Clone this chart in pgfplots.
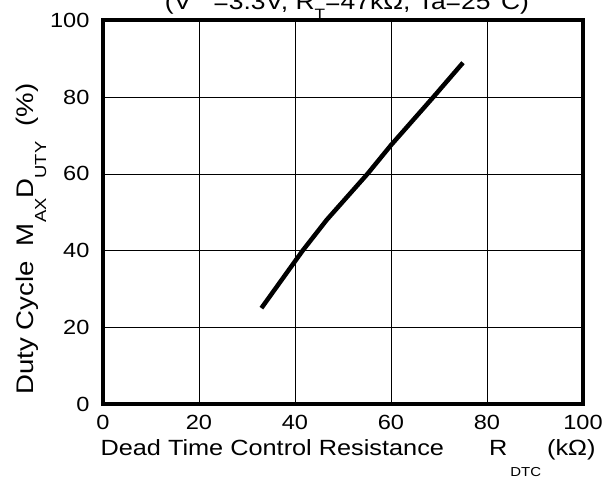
\documentclass[border=0pt]{standalone}
\usepackage{pgfplots}
\pgfplotsset{compat=1.18}
\usepackage{fontspec}
\setmainfont{Liberation Sans}[FakeStretch=1.15]
\newcommand\lsub[3][15]{\raisebox{#2}{\fontsize{#1}{#1}\selectfont #3}}
\begin{document}
\begin{tikzpicture}
\begin{axis}[name=ax, scale only axis, width=480pt, height=383.5pt,
  xmin=0, xmax=100, ymin=0, ymax=100,
  xtick={0,20,...,100}, ytick={0,20,...,100},
  grid=major, grid style={black, line width=0.7pt},
  axis line style={line width=4pt},
  major tick length=0pt,
  tick label style={font=\fontsize{20.5}{20.5}\selectfont},
  /pgf/number format/assume math mode=true,
  xticklabel style={anchor=north, yshift=-8pt},
  yticklabel style={anchor=east, xshift=-10pt},
  xlabel={Dead Time Control Resistance\hspace{45pt}R\hspace{3pt}\lsub[13]{-21pt}{DTC}\hspace{6pt}(kΩ)},
  xlabel style={at={(rel axis cs:0,0)}, anchor=base west, xshift=-6pt, yshift=-51pt, font=\fontsize{22}{22}\selectfont},
  ylabel={Duty Cycle\ \ M\lsub[16]{-13pt}{AX}D\lsub[16]{-13pt}{UTY}\ \ (\%)},
  ylabel style={at={(rel axis cs:-0.1458,0.43)}, anchor=base, font=\fontsize{24}{24}\selectfont},
  title={(V\ \ \ =3.3V, R\lsub{-10pt}{T}=47kΩ, Ta=25\textdegree C)},
  title style={at={(rel axis cs:0.5,1)}, anchor=base, xshift=4pt, yshift=4.5pt, font=\fontsize{23}{23}\selectfont},
]
\addplot[black, line width=4.5pt, line join=round, line cap=butt] coordinates {
(33,25) (41.6,40) (46.6,48) (55.1,60) (60,67.5) (68.8,80) (75,89)
};
\end{axis}
\pgfresetboundingbox
\path[use as bounding box] ([shift={(-103pt,-73pt)}]ax.south west) rectangle ([shift={(22pt,20.5pt)}]ax.north east);
\end{tikzpicture}
\end{document}
